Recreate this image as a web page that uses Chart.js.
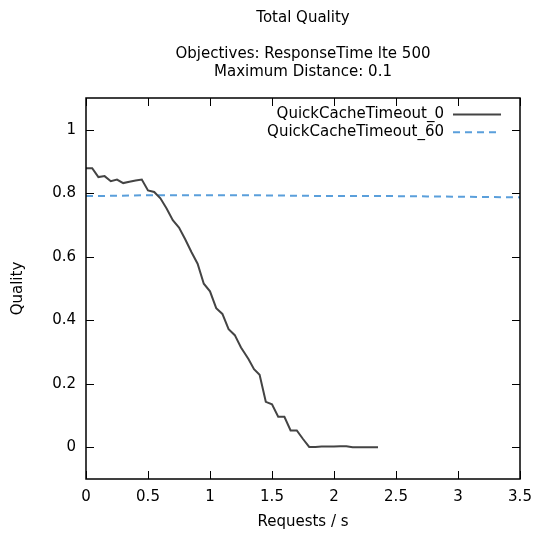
<!DOCTYPE html>
<html lang="en">
<head>
  <meta charset="UTF-8">
  <title>Total Quality</title>
  <script src="https://cdn.jsdelivr.net/npm/chart.js"></script>
  <style>
    html, body { margin: 0; padding: 0; background: #fff; }
    #wrap { width: 537px; height: 534px; }
  </style>
</head>
<body>
  <div id="wrap"><canvas id="qualityChart" width="537" height="534"></canvas></div>

  <script>
    // series 1: QuickCacheTimeout_0
    const reqRate0 = [0, 0.05, 0.10, 0.15, 0.20, 0.25, 0.30, 0.35, 0.40, 0.45,
      0.50, 0.55, 0.60, 0.65, 0.70, 0.75, 0.80, 0.85, 0.90, 0.95,
      1.00, 1.05, 1.10, 1.15, 1.20, 1.25, 1.31, 1.355, 1.40, 1.45,
      1.50, 1.55, 1.60, 1.65, 1.70, 1.75, 1.80, 1.85, 1.90, 1.95,
      2.00, 2.05, 2.10, 2.15, 2.20, 2.25, 2.30, 2.355];
    const quality0 = [0.879, 0.879, 0.851, 0.854, 0.838, 0.843, 0.832, 0.836, 0.840, 0.843,
      0.809, 0.804, 0.784, 0.752, 0.715, 0.692, 0.655, 0.615, 0.578, 0.515,
      0.491, 0.438, 0.420, 0.372, 0.353, 0.314, 0.278, 0.246, 0.228, 0.143,
      0.135, 0.096, 0.096, 0.053, 0.053, 0.026, 0.001, 0.001, 0.002, 0.002,
      0.002, 0.003, 0.003, 0.000, 0.000, 0.000, 0.000, 0.000];

    // series 2: QuickCacheTimeout_60
    const reqRate60 = [0, 0.25, 0.5, 0.75, 1.0, 1.25, 1.5, 1.75, 2.0, 2.25, 2.5, 2.75, 3.0, 3.25, 3.5];
    const quality60 = [0.791, 0.792, 0.794, 0.794, 0.794, 0.794, 0.793, 0.792, 0.791, 0.791, 0.791, 0.790, 0.789, 0.788, 0.787];

    const seriesNames = ['QuickCacheTimeout_0', 'QuickCacheTimeout_60'];
    const xTicks = [0, 0.5, 1, 1.5, 2, 2.5, 3, 3.5];
    const yTicks = [0, 0.2, 0.4, 0.6, 0.8, 1];
    const titleLines = ['Total Quality', '', 'Objectives: ResponseTime lte 500', 'Maximum Distance: 0.1'];

    const FONT = "'DejaVu Sans', sans-serif";
    const FS = 15;
    const fmt = v => String(+v.toFixed(2));

    // gnuplot style frame, inward mirrored ticks, titles and key
    const gnuplotLook = {
      id: 'gnuplotLook',
      afterDatasetsDraw(chart) {
        const { ctx, chartArea: a, scales: { x, y } } = chart;
        ctx.save();
        ctx.strokeStyle = '#000';
        ctx.lineWidth = 1;
        ctx.beginPath();
        const tl = 8;
        xTicks.forEach(v => {
          const px = Math.round(x.getPixelForValue(v)) + 0.5;
          ctx.moveTo(px, a.bottom); ctx.lineTo(px, a.bottom - tl);
          ctx.moveTo(px, a.top); ctx.lineTo(px, a.top + tl);
        });
        yTicks.forEach(v => {
          const py = Math.round(y.getPixelForValue(v)) + 0.5;
          ctx.moveTo(a.left, py); ctx.lineTo(a.left + tl, py);
          ctx.moveTo(a.right, py); ctx.lineTo(a.right - tl, py);
        });
        ctx.stroke();
        ctx.lineWidth = 1.5;
        ctx.strokeRect(a.left, a.top, a.right - a.left, a.bottom - a.top);

        // key
        ctx.font = FS + 'px ' + FONT;
        ctx.fillStyle = '#000';
        ctx.textAlign = 'right';
        ctx.textBaseline = 'middle';
        chart.data.datasets.forEach((ds, i) => {
          const ky = a.top + 16.5 + i * 17.8;
          ctx.fillText(ds.label, 444, ky);
          ctx.save();
          ctx.strokeStyle = ds.borderColor;
          ctx.lineWidth = ds.borderWidth;
          ctx.setLineDash(ds.borderDash || []);
          ctx.beginPath();
          ctx.moveTo(453, ky); ctx.lineTo(501, ky);
          ctx.stroke();
          ctx.restore();
        });

        // titles
        ctx.textAlign = 'center';
        const cx = (a.left + a.right) / 2;
        titleLines.forEach((t, i) => ctx.fillText(t, cx, 18 + i * 18));
        ctx.restore();
      }
    };

    const ctx = document.getElementById('qualityChart').getContext('2d');
    new Chart(ctx, {
      type: 'scatter',
      data: {
        datasets: [
          {
            label: seriesNames[0],
            data: reqRate0.map((v, i) => ({ x: v, y: quality0[i] })),
            showLine: true,
            borderColor: '#444444',
            borderWidth: 2,
            pointRadius: 0,
            tension: 0,
          },
          {
            label: seriesNames[1],
            data: reqRate60.map((v, i) => ({ x: v, y: quality60[i] })),
            showLine: true,
            borderColor: '#5a9fdb',
            borderWidth: 2,
            borderDash: [7, 5],
            pointRadius: 0,
            tension: 0,
          },
        ],
      },
      options: {
        responsive: false,
        animation: false,
        layout: { padding: { top: 98, right: 17, left: 0, bottom: 0 } },
        plugins: {
          legend: { display: false },
          title: { display: false },
          tooltip: { enabled: false },
        },
        scales: {
          x: {
            type: 'linear',
            min: 0,
            max: 3.5,
            afterFit: s => { s.height = 55; s.paddingLeft = 0; s.paddingRight = 0; },
            afterBuildTicks: s => { s.ticks = xTicks.map(v => ({ value: v })); },
            grid: { display: false, drawTicks: false },
            border: { display: false },
            ticks: { color: '#000', padding: 9, maxRotation: 0, font: { family: FONT, size: FS }, callback: fmt },
            title: { display: true, text: 'Requests / s', color: '#000', padding: { top: 4, bottom: 3 }, font: { family: FONT, size: FS } },
          },
          y: {
            type: 'linear',
            min: -0.1,
            max: 1.1,
            afterFit: s => { s.width = 86; s.paddingTop = 0; s.paddingBottom = 0; },
            afterBuildTicks: s => { s.ticks = yTicks.map(v => ({ value: v })); },
            grid: { display: false, drawTicks: false },
            border: { display: false },
            ticks: { color: '#000', padding: 10, font: { family: FONT, size: FS }, callback: fmt },
            title: { display: true, text: 'Quality', color: '#000', padding: { top: 9, bottom: 4 }, font: { family: FONT, size: FS } },
          },
        },
      },
      plugins: [gnuplotLook],
    });
  </script>
</body>
</html>
